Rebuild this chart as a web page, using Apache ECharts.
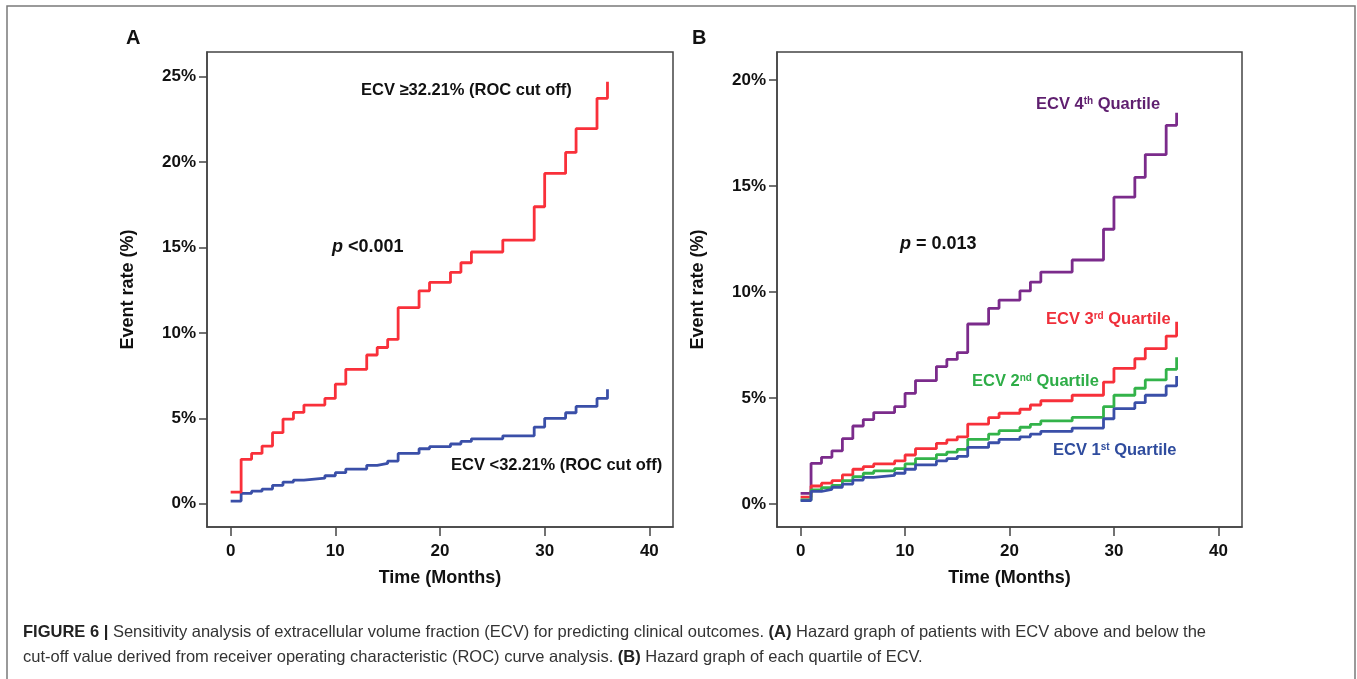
<!DOCTYPE html>
<html>
<head>
<meta charset="utf-8">
<script src="https://cdn.jsdelivr.net/npm/echarts@6/dist/echarts.min.js"></script>
<style>
  html, body { margin: 0; padding: 0; background: #fff; }
  #chart { width: 1357px; height: 679px; }
</style>
</head>
<body>
<div id="chart"></div>
<script>
// step times (months), shared by every curve
const months = [0, 1, 2, 3, 4, 5, 6, 7, 9, 10, 11, 13, 14, 15, 16, 18, 19, 21, 22, 23, 26, 29, 30, 32, 33, 35, 36]

// panel A: ROC cut off groups (event rate %)
const ecvHigh = [0.68, 2.6, 2.95, 3.38, 4.16, 4.96, 5.35, 5.78, 6.17, 7.0, 7.87, 8.71, 9.15, 9.62, 11.48, 12.47, 12.96, 13.55, 14.11, 14.74, 15.44, 17.39, 19.34, 20.57, 21.96, 23.74, 24.71]
const ecvLow = [0.16, 0.61, 0.74, 0.86, 1.08, 1.27, 1.39, 1.5, 1.64, 1.82, 2.03, 2.25, 2.36, 2.5, 2.95, 3.22, 3.34, 3.5, 3.65, 3.8, 3.98, 4.49, 5.0, 5.33, 5.7, 6.17, 6.7]

// panel B: quartiles (event rate %)
const q4 = [0.5, 1.92, 2.2, 2.51, 3.08, 3.68, 3.98, 4.31, 4.59, 5.22, 5.82, 6.48, 6.82, 7.14, 8.49, 9.23, 9.62, 10.05, 10.47, 10.94, 11.51, 12.96, 14.47, 15.41, 16.48, 17.86, 18.46]
const q3 = [0.32, 0.85, 0.98, 1.1, 1.37, 1.64, 1.76, 1.89, 2.03, 2.31, 2.61, 2.86, 3.02, 3.17, 3.77, 4.07, 4.28, 4.47, 4.67, 4.87, 5.13, 5.75, 6.4, 6.85, 7.33, 7.92, 8.6]
const q2 = [0.19, 0.66, 0.77, 0.88, 1.1, 1.29, 1.45, 1.56, 1.67, 1.89, 2.14, 2.33, 2.45, 2.58, 3.05, 3.3, 3.46, 3.62, 3.76, 3.92, 4.09, 4.59, 5.13, 5.46, 5.85, 6.35, 6.92]
const q1 = [0.16, 0.6, 0.69, 0.79, 0.94, 1.13, 1.26, 1.35, 1.45, 1.64, 1.85, 2.03, 2.14, 2.25, 2.67, 2.89, 3.05, 3.17, 3.3, 3.43, 3.58, 4.02, 4.5, 4.78, 5.13, 5.57, 6.04]

// tick labels
const xTicks = [0, 10, 20, 30, 40]
const yTicksA = [0, 5, 10, 15, 20, 25]
const yTicksB = [0, 5, 10, 15, 20]

const FONT = '"Liberation Sans", Arial, sans-serif'
const pair = (ys) => months.map((m, i) => [m, ys[i]])

function xAxisOf (gridIndex) {
  return {
    gridIndex: gridIndex,
    type: 'value',
    min: -2.26,
    max: 42.26,
    name: 'Time (Months)',
    nameLocation: 'middle',
    nameGap: 42,
    nameTextStyle: { fontFamily: FONT, fontWeight: 'bold', fontSize: 18, color: '#111' },
    axisLine: { show: true, onZero: false, lineStyle: { color: '#444', width: 1.5 } },
    axisTick: { show: true, customValues: xTicks, length: 9, lineStyle: { color: '#444', width: 1.5 } },
    axisLabel: { customValues: xTicks, margin: 16, fontFamily: FONT, fontWeight: 'bold', fontSize: 17, color: '#111' },
    splitLine: { show: false }
  }
}

function yAxisOf (gridIndex, min, max, ticks) {
  return {
    gridIndex: gridIndex,
    type: 'value',
    min: min,
    max: max,
    name: 'Event rate (%)',
    nameLocation: 'middle',
    nameGap: 70,
    nameTextStyle: { fontFamily: FONT, fontWeight: 'bold', fontSize: 18, color: '#111' },
    axisLine: { show: true, onZero: false, lineStyle: { color: '#444', width: 1.5 } },
    axisTick: { show: true, customValues: ticks, length: 8, lineStyle: { color: '#444', width: 1.5 } },
    axisLabel: { customValues: ticks, margin: 11, fontFamily: FONT, fontWeight: 'bold', fontSize: 17, color: '#111', formatter: v => v + '%' },
    splitLine: { show: false }
  }
}

function stepLine (name, data, color, xi) {
  return {
    name: name,
    type: 'line',
    step: 'end',
    xAxisIndex: xi,
    yAxisIndex: xi,
    data: pair(data),
    symbol: 'none',
    lineStyle: { color: color, width: 2.8 },
    animation: false
  }
}

function label (x, y, parts, color, size) {
  // parts: [['ECV 4', 'n'], ['th', 's'], ...]
  return {
    type: 'text',
    left: x,
    top: y,
    style: {
      text: parts.map(p => '{' + p[1] + '|' + p[0] + '}').join(''),
      rich: {
        n: { fontFamily: FONT, fontWeight: 'bold', fontSize: size || 16.5, fill: color },
        s: { fontFamily: FONT, fontWeight: 'bold', fontSize: 10, fill: color, verticalAlign: 'top' },
        i: { fontFamily: FONT, fontWeight: 'bold', fontStyle: 'italic', fontSize: size || 16.5, fill: color }
      }
    }
  }
}

const captionRich = {
  b: { fontFamily: FONT, fontWeight: 'bold', fontSize: 16.5, fill: '#222' },
  t: { fontFamily: FONT, fontSize: 16.5, fill: '#333' }
}

const option = {
  backgroundColor: '#fff',
  animation: false,
  grid: [
    { left: 207, top: 52, width: 466, height: 475, show: true, borderColor: '#444', borderWidth: 1.5, backgroundColor: 'transparent' },
    { left: 777, top: 52, width: 465, height: 475, show: true, borderColor: '#444', borderWidth: 1.5, backgroundColor: 'transparent' }
  ],
  xAxis: [xAxisOf(0), xAxisOf(1)],
  yAxis: [yAxisOf(0, -1.36, 26.45, yTicksA), yAxisOf(1, -1.085, 21.32, yTicksB)],
  series: [
    stepLine('ECV <32.21%', ecvLow, '#3a4fa8', 0),
    stepLine('ECV ≥32.21%', ecvHigh, '#f9303a', 0),
    stepLine('ECV 4th Quartile', q4, '#7b2b8b', 1),
    stepLine('ECV 3rd Quartile', q3, '#f7303a', 1),
    stepLine('ECV 2nd Quartile', q2, '#33b34a', 1),
    stepLine('ECV 1st Quartile', q1, '#3a4fa8', 1)
  ],
  graphic: [
    { type: 'rect', shape: { x: 7, y: 6, width: 1348, height: 700 }, style: { fill: 'none', stroke: '#7a7a7a', lineWidth: 1.5 } },
    { type: 'text', left: 126, top: 28, style: { text: 'A', font: 'bold 20px ' + FONT, fill: '#111' } },
    { type: 'text', left: 692, top: 28, style: { text: 'B', font: 'bold 20px ' + FONT, fill: '#111' } },
    label(361, 82, [['ECV ≥32.21% (ROC cut off)', 'n']], '#111'),
    label(451, 457, [['ECV <32.21% (ROC cut off)', 'n']], '#111'),
    label(332, 238, [['p', 'i'], [' <0.001', 'n']], '#111', 18),
    label(900, 235, [['p', 'i'], [' = 0.013', 'n']], '#111', 18),
    label(1036, 96, [['ECV 4', 'n'], ['th', 's'], [' Quartile', 'n']], '#5f1f6f'),
    label(1046, 311, [['ECV 3', 'n'], ['rd', 's'], [' Quartile', 'n']], '#ef2f3a'),
    label(972, 373, [['ECV 2', 'n'], ['nd', 's'], [' Quartile', 'n']], '#2ead47'),
    label(1053, 442, [['ECV 1', 'n'], ['st', 's'], [' Quartile', 'n']], '#2f4c9e'),
    {
      type: 'text',
      left: 23,
      top: 620,
      style: {
        text: '{b|FIGURE 6 |}{t| Sensitivity analysis of extracellular volume fraction (ECV) for predicting clinical outcomes. }{b|(A)}{t| Hazard graph of patients with ECV above and below the}\n' +
          '{t|cut-off value derived from receiver operating characteristic (ROC) curve analysis. }{b|(B)}{t| Hazard graph of each quartile of ECV.}',
        rich: captionRich,
        lineHeight: 25
      }
    }
  ]
}

const myChart = echarts.init(document.getElementById('chart'))
myChart.setOption(option)
</script>
</body>
</html>
